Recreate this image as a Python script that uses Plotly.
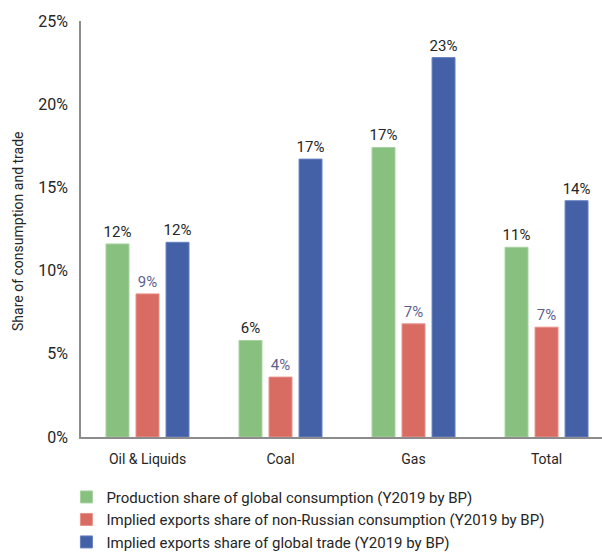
import plotly.graph_objects as go

categories = ["Oil & Liquids", "Coal", "Gas", "Total"]
production_share = [0.116, 0.058, 0.174, 0.114]
exports_non_russian = [0.086, 0.036, 0.068, 0.066]
exports_global_trade = [0.117, 0.167, 0.228, 0.142]
y_ticks = [0, 0.05, 0.10, 0.15, 0.20, 0.25]
y_tick_labels = ["0%", "5%", "10%", "15%", "20%", "25%"]

series = [
    ("Production share of global consumption (Y2019 by BP)", production_share,
     "#88c080", "#a6d29e", "#262626"),
    ("Implied exports share of non-Russian consumption (Y2019 by BP)", exports_non_russian,
     "#d96c62", "#e89088", "#5f5f8f"),
    ("Implied exports share of global trade (Y2019 by BP)", exports_global_trade,
     "#4461a8", "#6680c0", "#262626"),
]

FONT = "Roboto, Arial, sans-serif"

fig = go.Figure()
for i, (name, vals, color, edge, label_color) in enumerate(series):
    fig.add_trace(go.Bar(
        x=categories, y=vals, name=name, legendgroup=f"g{i}",
        marker=dict(color=color, line=dict(color=edge, width=1)),
        texttemplate="%{y:.0%}", textposition="outside", constraintext="none",
        textfont=dict(size=15, color=label_color, family=FONT),
        cliponaxis=False,
    ))

fig.add_annotation(
    text="Share of consumption and trade", textangle=-90,
    xref="paper", yref="paper", x=-0.14, y=0.493,
    showarrow=False, font=dict(size=14, color="#262626", family=FONT),
)

fig.update_layout(
    width=602, height=553,
    margin=dict(l=81, r=0, t=21, b=116, autoexpand=False),
    paper_bgcolor="white", plot_bgcolor="white",
    barmode="group", bargap=0.323, bargroupgap=0.235,
    font=dict(family=FONT, color="#262626"),
    xaxis=dict(
        range=[-0.5, 3.417], showgrid=False, showline=True,
        linecolor="#8c8c8c", linewidth=1.5, ticks="", ticklabelstandoff=8,
        tickfont=dict(size=14, color="#262626"),
    ),
    yaxis=dict(
        range=[0, 0.25], tickvals=y_ticks, ticktext=y_tick_labels,
        showgrid=False, showline=True, linecolor="#8c8c8c", linewidth=1.5,
        ticks="", zeroline=False, ticklabelstandoff=8,
        tickfont=dict(size=16, color="#262626"),
    ),
    legend=dict(
        orientation="v", x=-0.028, y=-0.105, xanchor="left", yanchor="top",
        font=dict(size=15, color="#262626", family=FONT),
        tracegroupgap=8, traceorder="normal", itemwidth=30,
        bgcolor="rgba(0,0,0,0)",
    ),
)

fig.write_html("out.html")
